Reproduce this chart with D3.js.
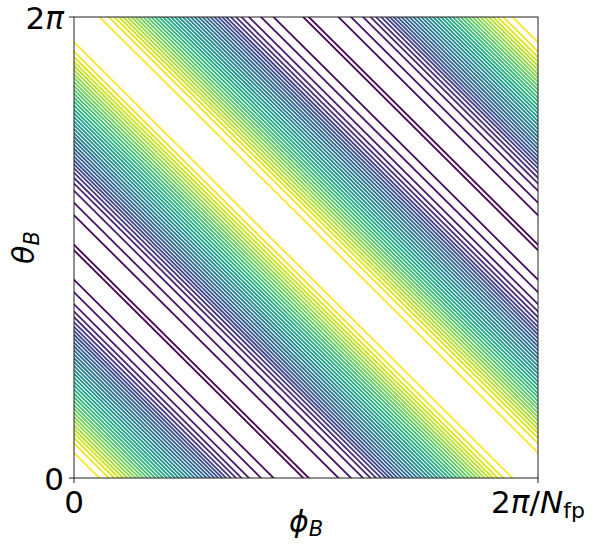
<!DOCTYPE html>
<html lang="en">
<head>
  <meta charset="UTF-8">
  <title>|B| contours in Boozer coordinates</title>
  <script src="https://d3js.org/d3.v7.min.js"></script>
  <style>
    body { margin: 0; background: #fff; }
    text { font-family: "DejaVu Sans", sans-serif; fill: #000; }
  </style>
</head>
<body>
  <div id="chart"></div>
  <script>
    // Contour levels, highest (yellow) to lowest (purple).
    // Each level is a straight line theta/2pi + Nfp*phi/2pi = k +/- offset,
    // offset = distance from the |B| ridge, in fractions of one period.
    const levelOffsets = [
      0.055, 0.075, 0.087, 0.097, 0.106, 0.115, 0.124, 0.1325, 0.141, 0.1495,
      0.158, 0.1665, 0.175, 0.1835, 0.192, 0.2005, 0.209, 0.2175, 0.226, 0.2345,
      0.243, 0.2515, 0.260, 0.2685, 0.277, 0.2855, 0.294, 0.3025, 0.311, 0.3195,
      0.328, 0.338, 0.349, 0.361, 0.377, 0.403, 0.430, 0.494
    ];
    // ridge positions (maxima) crossing the plot
    const ridges = [0, 1, 2];

    const xTicks = [0, 1];
    const xTickLabels = ["0", "2π/N_fp"];
    const yTicks = [0, 1];
    const yTickLabels = ["0", "2π"];

    const W = 598, H = 544;
    const margin = { top: 17, right: 60, bottom: 66, left: 74 };
    const width = W - margin.left - margin.right;
    const height = H - margin.top - margin.bottom;

    const svg = d3.select("#chart").append("svg")
      .attr("width", W)
      .attr("height", H);

    const x = d3.scaleLinear().domain([0, 1]).range([0, width]);
    const y = d3.scaleLinear().domain([0, 1]).range([height, 0]);

    const color = d3.scaleSequential(d3.interpolateViridis)
      .domain([levelOffsets.length - 1, 0]);

    svg.append("defs").append("clipPath")
      .attr("id", "plot-clip")
      .append("rect")
      .attr("width", width)
      .attr("height", height);

    const g = svg.append("g")
      .attr("transform", `translate(${margin.left},${margin.top})`);

    // build the list of contour lines x + y = c
    const lines = [];
    ridges.forEach(r => {
      levelOffsets.forEach((a, i) => {
        lines.push({ c: r - a, level: i });
        lines.push({ c: r + a, level: i });
      });
    });

    g.append("g")
      .attr("clip-path", "url(#plot-clip)")
      .selectAll("line")
      .data(lines.filter(d => d.c > 0 && d.c < 2))
      .enter().append("line")
        .attr("x1", d => x(d.c - 1.2))
        .attr("y1", d => y(1.2))
        .attr("x2", d => x(d.c + 0.2))
        .attr("y2", d => y(-0.2))
        .attr("stroke", d => color(d.level))
        .attr("stroke-width", 1.8)
        .attr("fill", "none");

    // frame
    g.append("rect")
      .attr("width", width)
      .attr("height", height)
      .attr("fill", "none")
      .attr("stroke", "#222")
      .attr("stroke-width", 1);

    // tick marks
    g.selectAll(".xtick")
      .data(xTicks)
      .enter().append("line")
        .attr("x1", d => x(d)).attr("x2", d => x(d))
        .attr("y1", height).attr("y2", height + 5)
        .attr("stroke", "#222");

    g.selectAll(".ytick")
      .data(yTicks)
      .enter().append("line")
        .attr("x1", -5).attr("x2", 0)
        .attr("y1", d => y(d)).attr("y2", d => y(d))
        .attr("stroke", "#222");

    // tick labels with math-like styling
    function mathLabel(sel, label) {
      sel.text(null);
      if (label === "2π") {
        sel.append("tspan").text("2");
        sel.append("tspan").attr("font-style", "italic").text("π");
      } else if (label === "2π/N_fp") {
        sel.append("tspan").text("2");
        sel.append("tspan").attr("font-style", "italic").text("π");
        sel.append("tspan").text("/");
        sel.append("tspan").attr("font-style", "italic").text("N");
        sel.append("tspan").attr("font-size", "22px").attr("dy", 5).text("fp");
      } else {
        sel.append("tspan").text(label);
      }
    }

    xTicks.forEach((t, i) => {
      g.append("text")
        .attr("x", x(t))
        .attr("y", height + 35)
        .attr("text-anchor", "middle")
        .attr("font-size", "31px")
        .call(mathLabel, xTickLabels[i]);
    });

    yTicks.forEach((t, i) => {
      g.append("text")
        .attr("x", -10)
        .attr("y", y(t) + 12)
        .attr("text-anchor", "end")
        .attr("font-size", "31px")
        .call(mathLabel, yTickLabels[i]);
    });

    // axis labels
    const xl = g.append("text")
      .attr("x", width / 2)
      .attr("y", height + 54)
      .attr("text-anchor", "middle")
      .attr("font-size", "30px");
    xl.append("tspan").attr("font-style", "italic").text("ϕ");
    xl.append("tspan").attr("font-style", "italic").attr("font-size", "21px").attr("dy", 4).text("B");

    const yl = g.append("text")
      .attr("transform", `translate(-40,${height / 2}) rotate(-90)`)
      .attr("text-anchor", "middle")
      .attr("font-size", "30px");
    yl.append("tspan").attr("font-style", "italic").text("θ");
    yl.append("tspan").attr("font-style", "italic").attr("font-size", "21px").attr("dy", 5).text("B");
  </script>
</body>
</html>
